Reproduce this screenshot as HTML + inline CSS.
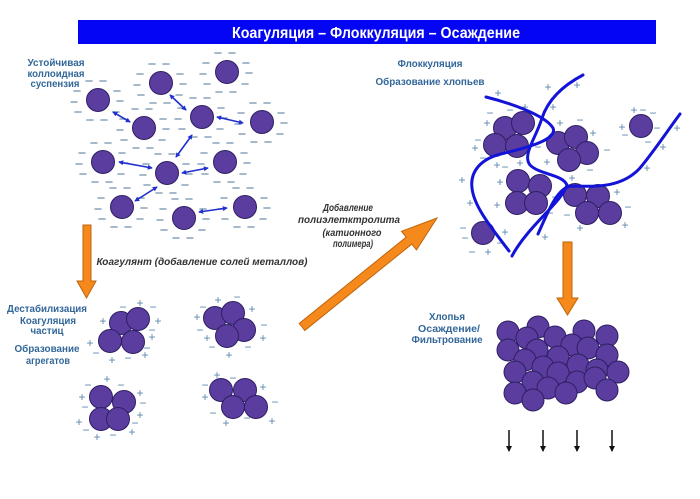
<!DOCTYPE html>
<html><head><meta charset="utf-8"><style>
html,body{margin:0;padding:0;background:#fff;}
svg{display:block;}
.lbl{font-family:"Liberation Sans",sans-serif;font-weight:bold;font-size:10px;fill:#33679a;text-anchor:middle;}
.it{font-family:"Liberation Sans",sans-serif;font-weight:bold;font-style:italic;font-size:10px;fill:#333;text-anchor:middle;}
.sg{font-family:"Liberation Sans",sans-serif;font-size:12px;fill:#5b87ae;text-anchor:middle;}
</style></head><body>
<svg width="700" height="499" viewBox="0 0 700 499" xmlns="http://www.w3.org/2000/svg">
<defs>
<g id="pd">
<g stroke="#8aa3bb" stroke-width="1.6" stroke-linecap="round">
<line x1="-12" y1="-19" x2="-6" y2="-19"/><line x1="2" y1="-19" x2="8" y2="-19"/>
<line x1="-24" y1="-9" x2="-18" y2="-9"/><line x1="16" y1="-9" x2="22" y2="-9"/>
<line x1="-27" y1="2" x2="-21" y2="2"/><line x1="19" y1="1" x2="25" y2="1"/>
<line x1="-23" y1="12" x2="-17" y2="12"/><line x1="15" y1="12" x2="21" y2="12"/>
<line x1="-11" y1="20" x2="-5" y2="20"/><line x1="3" y1="20" x2="9" y2="20"/>
</g>
<circle r="11.5" fill="#5a3d9f" stroke="#2e1f63" stroke-width="1"/>
</g>
<marker id="ah" viewBox="0 0 6 6" refX="5" refY="3" markerWidth="5" markerHeight="5" orient="auto-start-reverse" markerUnits="userSpaceOnUse">
<path d="M0,0 L6,3 L0,6 z" fill="#1f2fd0"/>
</marker>
<marker id="bh" viewBox="0 0 6 6" refX="5" refY="3" markerWidth="6" markerHeight="7" orient="auto" markerUnits="userSpaceOnUse">
<path d="M0,0 L6,3 L0,6 z" fill="#111"/>
</marker>
</defs>

<!-- Title -->
<rect x="78" y="20" width="578" height="24" fill="#0505f5"/>
<text x="232" y="38" font-family="Liberation Sans, sans-serif" font-weight="bold" font-size="16" fill="#fff" textLength="288" lengthAdjust="spacingAndGlyphs">Коагуляция – Флоккуляция – Осаждение</text>

<!-- Top-left labels -->
<text class="lbl" x="56" y="66" textLength="57" lengthAdjust="spacingAndGlyphs">Устойчивая</text>
<text class="lbl" x="56" y="77" textLength="57" lengthAdjust="spacingAndGlyphs">коллоидная</text>
<text class="lbl" x="55" y="87" textLength="49" lengthAdjust="spacingAndGlyphs">суспензия</text>

<!-- Stable particles -->
<use href="#pd" x="161" y="83"/><use href="#pd" x="227" y="72"/><use href="#pd" x="98" y="100"/>
<use href="#pd" x="144" y="128"/><use href="#pd" x="202" y="117"/><use href="#pd" x="262" y="122"/>
<use href="#pd" x="103" y="162"/><use href="#pd" x="167" y="173"/><use href="#pd" x="225" y="162"/>
<use href="#pd" x="122" y="207"/><use href="#pd" x="184" y="218"/><use href="#pd" x="245" y="207"/>

<g stroke="#1f2fd0" stroke-width="1.6" marker-start="url(#ah)" marker-end="url(#ah)">
<line x1="113" y1="112" x2="130" y2="122"/>
<line x1="170" y1="95" x2="186" y2="110"/>
<line x1="217" y1="117" x2="243" y2="123"/>
<line x1="192" y1="135" x2="176" y2="157"/>
<line x1="119" y1="162" x2="152" y2="168"/>
<line x1="182" y1="173" x2="208" y2="168"/>
<line x1="157" y1="187" x2="135" y2="201"/>
<line x1="199" y1="212" x2="227" y2="208"/>
</g>

<!-- Orange arrows -->
<g fill="#f5891b" stroke="#c0640a" stroke-width="1">
<polygon points="83,225 91,225 91,281 96,281 86.5,298 77,281 83,281"/>
<polygon points="563,242 572,242 572,298 578,298 567.5,315 557,298 563,298"/>
<polygon points="304.8,330.5 299.2,323.5 406.2,237.1 401.5,231.3 437,218 416.5,249.9 411.8,244.1"/>
</g>

<text class="it" x="202" y="265" textLength="211" lengthAdjust="spacingAndGlyphs">Коагулянт (добавление  солей  металлов)</text>
<text class="it" x="348" y="211" textLength="50" lengthAdjust="spacingAndGlyphs">Добавление</text>
<text class="it" x="349" y="223" textLength="102" lengthAdjust="spacingAndGlyphs">полиэлетктролита</text>
<text class="it" x="352" y="236" textLength="59" lengthAdjust="spacingAndGlyphs">(катионного</text>
<text class="it" x="353" y="247" textLength="40" lengthAdjust="spacingAndGlyphs">полимера)</text>

<!-- Left middle labels -->
<text class="lbl" x="47" y="312" textLength="80" lengthAdjust="spacingAndGlyphs">Дестабилизация</text>
<text class="lbl" x="48" y="324" textLength="56" lengthAdjust="spacingAndGlyphs">Коагуляция</text>
<text class="lbl" x="47" y="334" textLength="33" lengthAdjust="spacingAndGlyphs">частиц</text>
<text class="lbl" x="47" y="352" textLength="65" lengthAdjust="spacingAndGlyphs">Образование</text>
<text class="lbl" x="48" y="364" textLength="44" lengthAdjust="spacingAndGlyphs">агрегатов</text>

<!-- Right labels -->
<text class="lbl" x="430" y="67" textLength="65" lengthAdjust="spacingAndGlyphs">Флоккуляция</text>
<text class="lbl" x="430" y="85" textLength="109" lengthAdjust="spacingAndGlyphs">Образование хлопьев</text>
<text class="lbl" x="447" y="320" textLength="36" lengthAdjust="spacingAndGlyphs">Хлопья</text>
<text class="lbl" x="449" y="332" textLength="62" lengthAdjust="spacingAndGlyphs">Осаждение/</text>
<text class="lbl" x="447" y="343" textLength="71" lengthAdjust="spacingAndGlyphs">Фильтрование</text>

<!-- Signs: aggregates -->
<text class="sg" x="140 103 158 152 90 145 112 218 197 252 207 263 229 107 82 140 140 79 97 132 217 263 205 226 272" y="307 325 325 341 347 359 364 304 321 313 342 342 359 383 401 397 419 426 441 436 379 391 401 427 425">+++++++++++++++++++++++++</text>
<text class="sg" x="123 153 152 96 147 128 237 203 264 200 212 248 88 121 143 85 135 86 113 233 205 275 213 247" y="311 311 334 357 352 362 301 311 329 334 351 351 389 389 407 411 427 434 439 382 389 406 417 422">−−−−−−−−−−−−−−−−−−−−−−−−</text>
<!-- Signs: flocculation -->
<text class="sg" x="498 548 577 525 553 487 560 593 475 547 497 520 462 500 572 647 663 677 622 634 470 497 617 625 580 545 505 488" y="97 91 89 111 111 127 127 137 152 166 169 167 184 186 182 172 151 132 131 114 207 209 196 229 232 241 236 256">++++++++++++++++++++++++++++</text>
<text class="sg" x="490 510 580 607 590 653 643 625 648 657 478 483 505 538 567 628 463 465 472 500 555 550" y="117 114 124 154 174 117 114 139 146 132 144 162 171 151 219 211 232 242 256 247 201 217">−−−−−−−−−−−−−−−−−−−−−−</text>

<!-- Aggregates -->
<g fill="#5a3d9f" stroke="#2e1f63" stroke-width="1">
<circle cx="121" cy="323" r="11.5"/><circle cx="138" cy="319" r="11.5"/><circle cx="110" cy="341" r="11.5"/><circle cx="133" cy="342" r="11.5"/>
<circle cx="215" cy="318" r="11.5"/><circle cx="233" cy="313" r="11.5"/><circle cx="244" cy="330" r="11.5"/><circle cx="227" cy="336" r="11.5"/>
<circle cx="101" cy="397" r="11.5"/><circle cx="124" cy="402" r="11.5"/><circle cx="101" cy="419" r="11.5"/><circle cx="118" cy="419" r="11.5"/>
<circle cx="221" cy="390" r="11.5"/><circle cx="245" cy="390" r="11.5"/><circle cx="233" cy="407" r="11.5"/><circle cx="256" cy="407" r="11.5"/>
<!-- floc clusters -->
<circle cx="505" cy="128" r="11.5"/><circle cx="523" cy="123" r="11.5"/><circle cx="495" cy="145" r="11.5"/><circle cx="517" cy="146" r="11.5"/>
<circle cx="558" cy="143" r="11.5"/><circle cx="576" cy="137" r="11.5"/><circle cx="587" cy="153" r="11.5"/><circle cx="569" cy="160" r="11.5"/>
<circle cx="641" cy="126" r="11.5"/>
<circle cx="518" cy="181" r="11.5"/><circle cx="540" cy="186" r="11.5"/><circle cx="517" cy="203" r="11.5"/><circle cx="536" cy="203" r="11.5"/>
<circle cx="575" cy="195" r="11.5"/><circle cx="598" cy="196" r="11.5"/><circle cx="587" cy="213" r="11.5"/><circle cx="610" cy="213" r="11.5"/>
<circle cx="483" cy="233" r="11.5"/>
<!-- big floc -->
<circle cx="508" cy="332" r="11"/><circle cx="538" cy="327" r="11"/><circle cx="527" cy="338" r="11"/><circle cx="555" cy="337" r="11"/>
<circle cx="584" cy="331" r="11"/><circle cx="607" cy="336" r="11"/><circle cx="508" cy="350" r="11"/><circle cx="537" cy="350" r="11"/>
<circle cx="572" cy="345" r="11"/><circle cx="588" cy="348" r="11"/><circle cx="607" cy="355" r="11"/><circle cx="525" cy="360" r="11"/>
<circle cx="558" cy="357" r="11"/><circle cx="543" cy="367" r="11"/><circle cx="578" cy="365" r="11"/><circle cx="597" cy="370" r="11"/>
<circle cx="618" cy="372" r="11"/><circle cx="515" cy="372" r="11"/><circle cx="558" cy="373" r="11"/><circle cx="533" cy="382" r="11"/>
<circle cx="577" cy="382" r="11"/><circle cx="595" cy="378" r="11"/><circle cx="607" cy="390" r="11"/><circle cx="548" cy="388" r="11"/>
<circle cx="515" cy="393" r="11"/><circle cx="533" cy="400" r="11"/><circle cx="566" cy="393" r="11"/>
</g>

<!-- Polymer chains -->
<g fill="none" stroke="#1414d8" stroke-width="3" stroke-linecap="round">
<path d="M486,97 C510,103 545,115 553,128 C558,140 525,148 505,153 C480,158 470,172 472,188 C474,208 495,232 509,251"/>
<path d="M583,75 C562,86 548,100 542,118 C536,138 522,155 530,165 C540,175 562,174 567,185 C562,202 528,226 512,256"/>
<path d="M538,234 C548,212 556,190 570,186 C590,186 620,190 640,168 C655,150 668,130 680,114"/>
</g>

<!-- Sediment arrows -->
<g stroke="#111" stroke-width="1.5" marker-end="url(#bh)">
<line x1="509" y1="430" x2="509" y2="451"/>
<line x1="543" y1="430" x2="543" y2="451"/>
<line x1="577" y1="430" x2="577" y2="451"/>
<line x1="612" y1="430" x2="612" y2="451"/>
</g>
</svg>
</body></html>
